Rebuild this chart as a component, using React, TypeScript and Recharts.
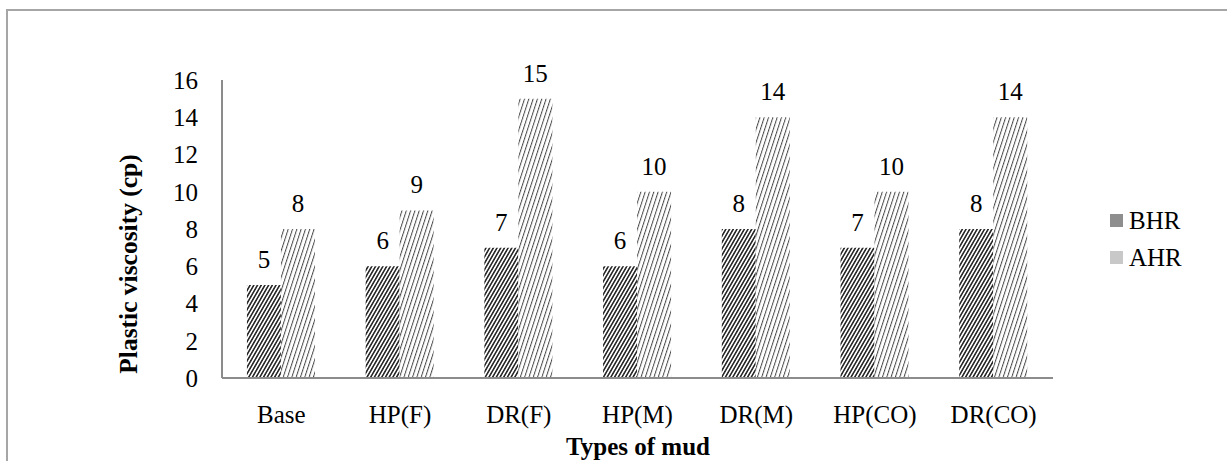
import React from 'react';
import { BarChart, Bar, XAxis, YAxis, Legend, LabelList } from 'recharts';

const categories = ['Base', 'HP(F)', 'DR(F)', 'HP(M)', 'DR(M)', 'HP(CO)', 'DR(CO)'];
const bhrValues = [5, 6, 7, 6, 8, 7, 8];
const ahrValues = [8, 9, 15, 10, 14, 10, 14];
const yTicks = [0, 2, 4, 6, 8, 10, 12, 14, 16];
const seriesNames = ['BHR', 'AHR'];
const legendSwatches = ['#8e8e8e', '#c8c8c8'];

const data = categories.map((name, i) => ({ name, BHR: bhrValues[i], AHR: ahrValues[i] }));

const FONT = "'Liberation Serif', 'Times New Roman', serif";

const LegendContent = () => (
  <div style={{ fontFamily: FONT, fontSize: 25, color: '#000' }}>
    {seriesNames.map((n, i) => (
      <div key={n} style={{ display: 'flex', alignItems: 'center', height: 37 }}>
        <span style={{ display: 'inline-block', width: 13, height: 13, background: legendSwatches[i], marginRight: 6 }} />
        <span>{n}</span>
      </div>
    ))}
  </div>
);

export default function App() {
  return (
    <div style={{ position: 'absolute', left: 0, top: 0, width: 1227, height: 461, overflow: 'hidden', background: '#fff' }}>
      <div style={{ position: 'absolute', left: 6, top: 9, width: 1400, height: 700, border: '2px solid #a6a6a6', boxSizing: 'border-box' }} />
      <div style={{ position: 'absolute', left: 0, top: 0 }}>
        <BarChart
          width={1227}
          height={461}
          data={data}
          margin={{ top: 80, right: 174, bottom: 0, left: 0 }}
          barCategoryGap="21%"
          barGap={0}
        >
          <defs>
            <pattern id="patBHR" patternUnits="userSpaceOnUse" width="3.2" height="3.2" patternTransform="rotate(30)">
              <rect x="0" y="0" width="3.2" height="3.2" fill="#fff" />
              <rect x="0" y="0" width="1.6" height="3.2" fill="#2a2a2a" />
            </pattern>
            <pattern id="patAHR" patternUnits="userSpaceOnUse" width="4.1" height="4.1" patternTransform="rotate(18)">
              <rect x="0" y="0" width="4.1" height="4.1" fill="#fff" />
              <rect x="0" y="0" width="1" height="4.1" fill="#4a4a4a" />
            </pattern>
          </defs>
          <XAxis
            dataKey="name"
            height={83}
            tickSize={0}
            tickMargin={27}
            tickLine={false}
            axisLine={{ stroke: '#8c8c8c', strokeWidth: 2 }}
            tick={{ fontFamily: FONT, fontSize: 25, fill: '#000' }}
            interval={0}
            label={(props: any) => (
              <text x={638} y={455} textAnchor="middle" fontFamily={FONT} fontSize={25} fontWeight="bold" fill="#000">
                Types of mud
              </text>
            )}
          />
          <XAxis
            xAxisId="top"
            dataKey="name"
            orientation="top"
            height={0}
            tick={false}
            tickLine={false}
            axisLine={{ stroke: '#bdbdbd', strokeWidth: 2 }}
          />
          <YAxis
            width={222}
            domain={[0, 16]}
            ticks={yTicks}
            tickSize={0}
            tickMargin={24}
            tickLine={false}
            axisLine={{ stroke: '#8c8c8c', strokeWidth: 2 }}
            tick={{ fontFamily: FONT, fontSize: 25, fill: '#000' }}
            interval={0}
            label={(props: any) => (
              <text
                x={137}
                y={264}
                transform="rotate(-90 137 264)"
                textAnchor="middle"
                fontFamily={FONT}
                fontSize={25.5}
                fontWeight="bold"
                fill="#000"
              >
                Plastic viscosity (cp)
              </text>
            )}
          />
          <YAxis
            yAxisId="right"
            orientation="right"
            width={0}
            domain={[0, 16]}
            tick={false}
            tickLine={false}
            axisLine={{ stroke: '#bdbdbd', strokeWidth: 2 }}
          />
          <Legend
            layout="vertical"
            align="center"
            verticalAlign="middle"
            content={<LegendContent />}
            wrapperStyle={{ left: 1110, top: 202, width: 110 }}
          />
          <Bar dataKey="BHR" fill="url(#patBHR)" isAnimationActive={false}>
            <LabelList dataKey="BHR" position="top" offset={17} style={{ fontFamily: FONT, fontSize: 25, fill: '#000' }} />
          </Bar>
          <Bar dataKey="AHR" fill="url(#patAHR)" isAnimationActive={false}>
            <LabelList dataKey="AHR" position="top" offset={17} style={{ fontFamily: FONT, fontSize: 25, fill: '#000' }} />
          </Bar>
        </BarChart>
      </div>
    </div>
  );
}
